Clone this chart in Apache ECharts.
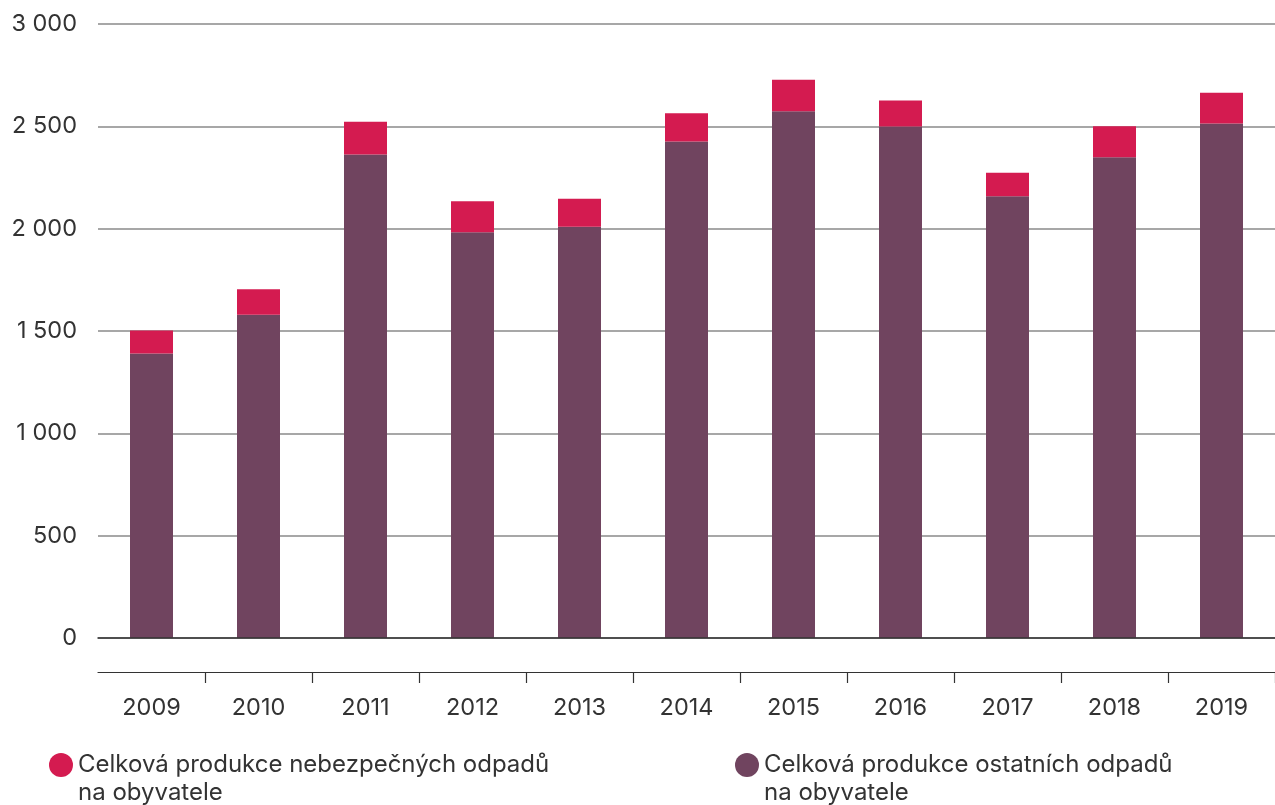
<!DOCTYPE html>
<html>
<head>
<meta charset="utf-8">
<script src="https://cdn.jsdelivr.net/npm/echarts@6/dist/echarts.min.js"></script>
<style>
  html, body { margin: 0; padding: 0; background: #fff; }
  #chart { width: 1275px; height: 805px; }
</style>
</head>
<body>
<div id="chart"></div>
<script>
// roky
const years = ["2009", "2010", "2011", "2012", "2013", "2014", "2015", "2016", "2017", "2018", "2019"];
// ostatni odpady na obyvatele (spodni cast sloupce)
const ostatni = [1390, 1580, 2362, 1982, 2009, 2426, 2574, 2499, 2158, 2349, 2514];
// nebezpecne odpady na obyvatele (horni cast sloupce)
const nebezpecne = [113, 124, 161, 152, 137, 138, 153, 127, 115, 151, 150];
const yTicks = [0, 500, 1000, 1500, 2000, 2500, 3000];

const nameNebezpecne = "Celková produkce nebezpečných odpadů\nna obyvatele";
const nameOstatni = "Celková produkce ostatních odpadů\nna obyvatele";

const textColor = "#333333";
const font = "Inter, Roboto, sans-serif";

const chart = echarts.init(document.getElementById("chart"));

// prazdny prvni radek, aby kolecko sedelo u prvniho radku textu
const legendText = {
  color: textColor,
  fontFamily: font,
  fontSize: 24,
  lineHeight: 28,
  rich: {
    s: { fontSize: 24, lineHeight: 28 },
  },
};
const legendFormatter = function (name) {
  return "{s| }\n" + name;
};

const option = {
  animation: false,
  grid: {
    left: 98,
    right: 0,
    top: 24,
    bottom: 167,
  },
  legend: [
    {
      data: [nameNebezpecne],
      left: 44,
      top: 718,
      icon: "circle",
      itemWidth: 24,
      itemHeight: 24,
      formatter: legendFormatter,
      textStyle: legendText,
    },
    {
      data: [nameOstatni],
      left: 730,
      top: 718,
      icon: "circle",
      itemWidth: 24,
      itemHeight: 24,
      formatter: legendFormatter,
      textStyle: legendText,
    },
  ],
  xAxis: [
    {
      type: "category",
      data: years,
      axisLine: { lineStyle: { color: "#333333", width: 1.5 } },
      axisTick: { show: false },
      axisLabel: { show: false },
      z: 5,
    },
    {
      type: "category",
      data: years,
      position: "bottom",
      offset: 34,
      axisLine: { lineStyle: { color: "#333333", width: 1.2 } },
      axisTick: {
        show: true,
        length: 11,
        lineStyle: { color: "#333333", width: 1.2 },
        interval: function (index) {
          return index !== 0;
        },
      },
      axisLabel: {
        color: textColor,
        fontFamily: font,
        fontSize: 23.5,
        margin: 24,
      },
    },
  ],
  yAxis: {
    type: "value",
    min: yTicks[0],
    max: yTicks[yTicks.length - 1],
    interval: 500,
    axisLine: { show: false },
    axisTick: { show: false },
    splitLine: { lineStyle: { color: "#8a8a8a", width: 1.5 } },
    axisLabel: {
      color: textColor,
      fontFamily: font,
      fontSize: 23.5,
      margin: 21,
      formatter: function (v) {
        return String(v).replace(/\B(?=(\d{3})+(?!\d))/g, " ");
      },
    },
  },
  series: [
    {
      name: nameOstatni,
      type: "bar",
      stack: "celkem",
      barWidth: 43,
      itemStyle: { color: "#70445f" },
      data: ostatni,
    },
    {
      name: nameNebezpecne,
      type: "bar",
      stack: "celkem",
      barWidth: 43,
      itemStyle: { color: "#d41b50" },
      data: nebezpecne,
    },
  ],
};

chart.setOption(option);
</script>
</body>
</html>
